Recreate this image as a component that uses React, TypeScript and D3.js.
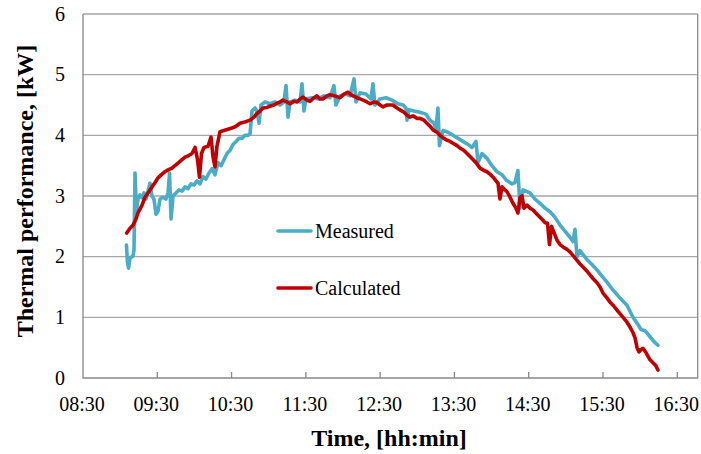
import * as d3 from 'd3';
import { useEffect, useRef } from 'react';

// clock labels on the time axis, one per hour
const xTickLabels = ['08:30', '09:30', '10:30', '11:30', '12:30', '13:30', '14:30', '15:30', '16:30'];
const yTicks = [0, 1, 2, 3, 4, 5, 6];

// [minutes after midnight, kW]
const measured: [number, number][] = [
  [545.1, 2.19], [545.9, 1.91], [546.8, 1.81], [548.0, 1.98], [550.4, 2.01], [551.2, 2.11], [552.0, 3.38],
  [553.2, 2.75], [554.4, 2.95], [556.0, 3.02], [557.7, 2.97], [559.3, 3.05], [560.9, 2.95], [562.5, 3.08],
  [564.1, 3.21], [565.7, 3.0], [567.3, 2.95], [569.0, 2.7], [570.6, 2.75], [572.2, 2.95], [574.6, 2.98],
  [577.0, 2.95], [578.7, 3.05], [579.9, 3.38], [581.1, 2.62], [582.7, 3.0], [585.1, 3.05], [587.5, 3.1],
  [590.0, 3.08], [592.4, 3.15], [594.8, 3.12], [597.2, 3.2], [599.7, 3.18], [602.1, 3.25], [604.5, 3.2],
  [606.9, 3.32], [609.3, 3.28], [611.8, 3.38], [614.2, 3.45], [616.6, 3.35], [619.0, 3.55], [621.5, 3.5],
  [623.9, 3.6], [626.3, 3.7], [628.7, 3.75], [631.2, 3.85], [633.6, 3.9], [636.0, 3.95], [638.4, 3.95],
  [640.8, 4.0], [643.3, 4.0], [644.9, 4.02], [646.5, 4.4], [648.9, 4.45], [650.5, 4.4], [652.2, 4.2],
  [653.8, 4.5], [657.0, 4.55], [661.0, 4.52], [665.1, 4.55], [669.1, 4.5], [672.3, 4.55], [674.0, 4.82],
  [675.6, 4.3], [677.2, 4.55], [681.2, 4.58], [685.3, 4.55], [686.9, 4.85], [688.5, 4.4], [690.1, 4.6],
  [695.0, 4.62], [699.8, 4.6], [704.7, 4.65], [709.5, 4.62], [712.7, 4.82], [714.3, 4.5], [717.6, 4.65],
  [722.4, 4.68], [725.7, 4.65], [728.9, 4.93], [730.5, 4.55], [733.7, 4.7], [738.6, 4.68], [742.6, 4.6],
  [744.2, 4.85], [745.8, 4.5], [749.9, 4.6], [754.7, 4.62], [759.6, 4.58], [764.4, 4.52], [768.5, 4.5],
  [770.9, 4.45], [771.7, 4.25], [773.3, 4.42], [777.3, 4.4], [782.2, 4.38], [787.0, 4.35], [790.3, 4.25],
  [793.5, 4.2], [795.1, 4.1], [796.7, 4.45], [797.9, 3.83], [800.8, 4.08], [804.8, 4.05], [808.8, 4.0],
  [812.9, 3.95], [816.9, 3.9], [821.0, 3.85], [824.2, 3.8], [827.4, 3.9], [829.0, 3.55], [832.3, 3.7],
  [836.3, 3.62], [840.3, 3.5], [844.4, 3.4], [848.4, 3.35], [852.5, 3.25], [856.5, 3.2], [858.9, 3.22],
  [861.3, 3.42], [863.0, 2.8], [865.4, 3.1], [871.0, 3.05], [875.1, 2.95], [879.1, 2.88], [883.2, 2.8],
  [887.2, 2.74], [891.2, 2.65], [895.3, 2.52], [899.3, 2.42], [903.3, 2.32], [905.8, 2.25], [907.4, 2.45],
  [909.0, 2.0], [911.4, 2.1], [917.1, 1.95], [921.1, 1.87], [925.2, 1.78], [929.2, 1.68], [933.2, 1.58],
  [938.1, 1.45], [943.7, 1.32], [949.4, 1.2], [954.2, 1.0], [958.3, 0.88], [960.7, 0.8], [963.9, 0.78],
  [968.0, 0.68], [971.2, 0.6], [974.4, 0.54],
];

const calculated: [number, number][] = [
  [545.3, 2.39], [548.0, 2.47], [550.4, 2.52], [552.8, 2.62], [554.4, 2.72], [557.7, 2.85], [560.1, 2.98],
  [562.5, 3.05], [565.7, 3.15], [568.2, 3.22], [570.6, 3.3], [573.8, 3.36], [576.2, 3.4], [578.7, 3.43],
  [581.9, 3.46], [584.3, 3.5], [586.7, 3.54], [590.0, 3.6], [592.4, 3.64], [594.8, 3.66], [598.0, 3.7],
  [600.5, 3.8], [602.5, 3.6], [604.1, 3.31], [605.7, 3.7], [607.7, 3.8], [611.0, 3.82], [613.4, 3.97],
  [615.0, 3.65], [616.6, 3.48], [618.2, 3.82], [620.7, 4.06], [623.9, 4.08], [627.1, 4.1], [630.3, 4.12],
  [633.6, 4.15], [636.8, 4.2], [640.8, 4.22], [644.9, 4.25], [648.1, 4.3], [650.5, 4.36], [653.0, 4.4],
  [655.4, 4.45], [658.6, 4.46], [661.0, 4.48], [664.3, 4.5], [666.7, 4.53], [669.1, 4.55], [671.5, 4.58],
  [674.8, 4.55], [677.2, 4.52], [680.4, 4.56], [682.8, 4.55], [685.3, 4.6], [687.7, 4.63], [690.9, 4.58],
  [693.3, 4.56], [696.6, 4.62], [699.0, 4.65], [701.4, 4.6], [703.8, 4.6], [707.1, 4.65], [709.5, 4.67],
  [713.5, 4.65], [717.6, 4.62], [720.8, 4.68], [724.0, 4.71], [727.3, 4.66], [731.3, 4.62], [733.7, 4.6],
  [736.2, 4.58], [739.4, 4.55], [741.8, 4.52], [745.0, 4.55], [747.5, 4.54], [749.9, 4.5], [752.3, 4.47],
  [755.5, 4.5], [758.0, 4.5], [760.4, 4.5], [763.6, 4.45], [766.0, 4.42], [769.3, 4.38], [771.7, 4.33],
  [774.1, 4.3], [776.5, 4.32], [779.8, 4.28], [782.2, 4.28], [785.4, 4.25], [787.8, 4.2], [790.3, 4.15],
  [792.7, 4.09], [795.9, 4.05], [798.4, 4.0], [801.6, 3.95], [804.0, 3.92], [806.4, 3.9], [808.8, 3.87],
  [812.1, 3.83], [814.5, 3.79], [817.7, 3.75], [820.2, 3.7], [822.6, 3.65], [825.0, 3.6], [827.4, 3.55],
  [830.7, 3.46], [833.9, 3.42], [836.3, 3.4], [838.7, 3.36], [841.2, 3.31], [843.6, 3.25], [845.2, 3.21],
  [846.8, 2.95], [848.4, 3.15], [850.9, 3.1], [852.5, 3.07], [854.9, 2.98], [857.3, 2.88], [859.7, 2.8],
  [861.3, 2.72], [863.0, 2.98], [864.6, 3.0], [866.2, 2.8], [868.6, 2.85], [871.0, 2.8], [873.5, 2.77],
  [876.7, 2.7], [879.1, 2.65], [881.5, 2.6], [883.2, 2.56], [885.2, 2.55], [886.8, 2.2], [888.4, 2.5],
  [890.4, 2.4], [892.9, 2.27], [895.3, 2.2], [897.7, 2.16], [900.9, 2.12], [903.3, 2.08], [906.6, 2.0],
  [909.0, 1.94], [911.4, 1.88], [913.9, 1.83], [917.1, 1.76], [919.5, 1.7], [921.9, 1.64], [925.2, 1.57],
  [927.6, 1.5], [930.0, 1.4], [933.2, 1.32], [935.7, 1.25], [938.1, 1.2], [941.3, 1.12], [943.7, 1.06],
  [946.2, 1.0], [949.4, 0.92], [951.8, 0.84], [954.2, 0.75], [955.9, 0.66], [957.5, 0.5], [959.1, 0.43],
  [960.7, 0.47], [962.3, 0.49], [964.7, 0.42], [968.0, 0.3], [970.4, 0.25], [972.8, 0.2], [974.4, 0.13],
];

const toMinutes = (label: string) => {
  const [h, m] = label.split(':').map(Number);
  return h * 60 + m;
};

const serif = '"Liberation Serif", "Times New Roman", serif';

export default function App() {
  const ref = useRef<SVGSVGElement>(null);

  useEffect(() => {
    const svg = d3.select(ref.current);
    svg.selectAll('*').remove();

    const width = 701;
    const height = 454;
    const left = 83;
    const right = 697.7;
    const top = 14;
    const bottom = 378;

    svg.attr('width', width).attr('height', height);

    const x = d3.scaleLinear()
      .domain([toMinutes(xTickLabels[0]), 1006.5])
      .range([left, right]);

    const y = d3.scaleLinear()
      .domain([0, 6])
      .range([bottom, top]);

    // horizontal grid
    svg.append('g')
      .selectAll('line')
      .data(yTicks.filter((d) => d > 0))
      .enter()
      .append('line')
      .attr('x1', left)
      .attr('x2', right)
      .attr('y1', (d) => y(d))
      .attr('y2', (d) => y(d))
      .attr('stroke', '#a6a6a6')
      .attr('stroke-width', 1.3);

    // frame
    svg.append('path')
      .attr('d', `M${left},${top}V${bottom}H${right}V${top}`)
      .attr('fill', 'none')
      .attr('stroke', '#898989')
      .attr('stroke-width', 1.3);

    // x ticks (inside)
    svg.append('g')
      .selectAll('line')
      .data(xTickLabels.slice(1))
      .enter()
      .append('line')
      .attr('x1', (d) => x(toMinutes(d)))
      .attr('x2', (d) => x(toMinutes(d)))
      .attr('y1', bottom)
      .attr('y2', bottom - 6)
      .attr('stroke', '#898989')
      .attr('stroke-width', 1.3);

    svg.append('g')
      .selectAll('text')
      .data(xTickLabels)
      .enter()
      .append('text')
      .attr('x', (d) => x(toMinutes(d)) - 1)
      .attr('y', 411)
      .attr('text-anchor', 'middle')
      .style('font-family', serif)
      .style('font-size', '20px')
      .style('fill', '#000')
      .text((d) => d);

    svg.append('g')
      .selectAll('text')
      .data(yTicks)
      .enter()
      .append('text')
      .attr('x', 65)
      .attr('y', (d) => y(d) + 6.5)
      .attr('text-anchor', 'end')
      .style('font-family', serif)
      .style('font-size', '20px')
      .style('fill', '#000')
      .text((d) => d);

    const line = d3.line<[number, number]>()
      .x((d) => x(d[0]))
      .y((d) => y(d[1]));

    svg.append('path')
      .datum(measured)
      .attr('d', line)
      .attr('fill', 'none')
      .attr('stroke', '#4bacc6')
      .attr('stroke-width', 3.6)
      .attr('stroke-linejoin', 'round')
      .attr('stroke-linecap', 'round');

    svg.append('path')
      .datum(calculated)
      .attr('d', line)
      .attr('fill', 'none')
      .attr('stroke', '#c00000')
      .attr('stroke-width', 3.6)
      .attr('stroke-linejoin', 'round')
      .attr('stroke-linecap', 'round');

    // legend
    const legend = [
      { label: 'Measured', color: '#4bacc6', cy: 231 },
      { label: 'Calculated', color: '#c00000', cy: 288 },
    ];
    const lg = svg.append('g');
    legend.forEach((item) => {
      lg.append('line')
        .attr('x1', 278)
        .attr('x2', 311)
        .attr('y1', item.cy)
        .attr('y2', item.cy)
        .attr('stroke', item.color)
        .attr('stroke-width', 3.6)
        .attr('stroke-linecap', 'round');
      lg.append('text')
        .attr('x', 315)
        .attr('y', item.cy + 7)
        .style('font-family', serif)
        .style('font-size', '20px')
        .style('fill', '#000')
        .text(item.label);
    });

    // axis titles
    svg.append('text')
      .attr('x', 389)
      .attr('y', 446)
      .attr('text-anchor', 'middle')
      .style('font-family', serif)
      .style('font-size', '24px')
      .style('font-weight', 'bold')
      .style('fill', '#000')
      .text('Time, [hh:min]');

    svg.append('text')
      .attr('transform', 'translate(33,191) rotate(-90)')
      .attr('text-anchor', 'middle')
      .style('font-family', serif)
      .style('font-size', '24px')
      .style('font-weight', 'bold')
      .style('fill', '#000')
      .text('Thermal performance, [kW]');

    return () => {
      svg.selectAll('*').remove();
    };
  }, []);

  return <svg ref={ref} style={{ position: 'absolute', left: 0, top: 0 }} />;
}
